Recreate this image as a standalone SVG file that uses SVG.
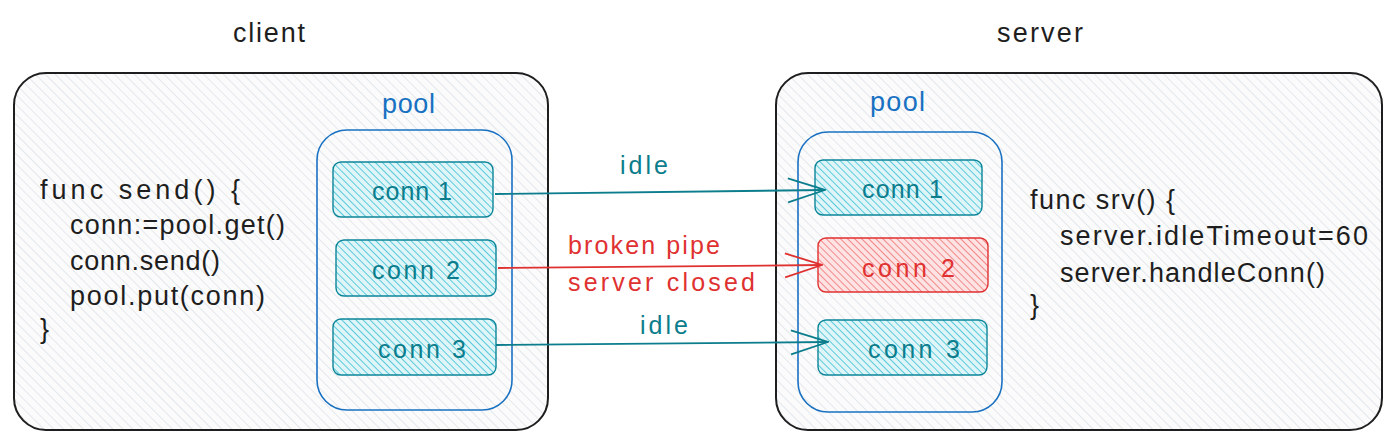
<svg xmlns="http://www.w3.org/2000/svg" width="1400" height="445" viewBox="0 0 1400 445">
<style>
text{font-family:"Liberation Sans",Arial,sans-serif;}
.title{font-size:27px;fill:#1e1e1e;}
.code{font-size:27px;fill:#1e1e1e;}
.pool{font-size:27px;fill:#1971c2;}
.tl{font-size:25px;fill:#0c7d8c;}
.rl{font-size:25px;fill:#e03131;}
.box{fill:url(#hg);stroke:#1e1e1e;stroke-width:2;}
.poolr{fill:none;stroke:#1971c2;stroke-width:1.6;}
.ct{fill:url(#ht);stroke:#0c8599;stroke-width:1.4;}
.cr{fill:url(#hr);stroke:#e03131;stroke-width:1.4;}
.ln{fill:none;stroke-width:1.8;}
</style>
<defs>
<pattern id="hg" width="7" height="7" patternUnits="userSpaceOnUse" patternTransform="rotate(-45)">
<rect width="7" height="7" fill="#fbfbfc"/><line x1="0" y1="0" x2="0" y2="7" stroke="#ced4da" stroke-width="1"/>
</pattern>
<pattern id="ht" width="5" height="5" patternUnits="userSpaceOnUse" patternTransform="rotate(-45)">
<rect width="5" height="5" fill="#dff5f8"/><line x1="0" y1="0" x2="0" y2="5" stroke="#22b8cf" stroke-width="1.4"/>
</pattern>
<pattern id="hr" width="5" height="5" patternUnits="userSpaceOnUse" patternTransform="rotate(-45)">
<rect width="5" height="5" fill="#fde3e3"/><line x1="0" y1="0" x2="0" y2="5" stroke="#f06060" stroke-width="1.4"/>
</pattern>
<marker id="at" viewBox="0 0 40 28" refX="39" refY="14" markerWidth="40" markerHeight="28" markerUnits="userSpaceOnUse" orient="auto">
<path d="M2,2 L39,14 L2,26" fill="none" stroke="#0c7d8c" stroke-width="1.8"/>
</marker>
<marker id="ar" viewBox="0 0 40 28" refX="39" refY="14" markerWidth="40" markerHeight="28" markerUnits="userSpaceOnUse" orient="auto">
<path d="M2,2 L39,14 L2,26" fill="none" stroke="#e03131" stroke-width="1.8"/>
</marker>
</defs>
<rect width="1400" height="445" fill="#ffffff"/>

<g id="client">
<text class="title" x="233" y="42" textLength="72">client</text>
<rect class="box" x="14" y="73" width="534" height="357" rx="32"/>
<text class="code" x="40" y="199" textLength="200">func send() {</text>
<text class="code" x="70" y="234" textLength="215">conn:=pool.get()</text>
<text class="code" x="70" y="270" textLength="150">conn.send()</text>
<text class="code" x="70" y="305" textLength="195">pool.put(conn)</text>
<text class="code" x="40" y="338">}</text>
</g>

<g id="client-pool">
<text class="pool" x="382" y="113" textLength="53">pool</text>
<rect class="poolr" x="317" y="130" width="195" height="280" rx="30"/>
</g>
<g id="client-conn1">
<rect class="ct" x="333" y="162" width="160" height="55" rx="8"/>
<text class="tl" x="372" y="200" textLength="80">conn 1</text>
</g>
<g id="client-conn2">
<rect class="ct" x="336" y="240" width="160" height="56" rx="8"/>
<text class="tl" x="372" y="279" textLength="88">conn 2</text>
</g>
<g id="client-conn3">
<rect class="ct" x="333" y="319" width="163" height="56" rx="8"/>
<text class="tl" x="378" y="358" textLength="88">conn 3</text>
</g>

<g id="server">
<text class="title" x="997" y="42" textLength="86">server</text>
<rect class="box" x="776" y="73" width="606" height="357" rx="32"/>
<text class="code" x="1030" y="209" textLength="145">func srv() {</text>
<text class="code" x="1060" y="245" textLength="308">server.idleTimeout=60</text>
<text class="code" x="1060" y="282" textLength="265">server.handleConn()</text>
<text class="code" x="1030" y="314">}</text>
</g>

<g id="server-pool">
<text class="pool" x="870" y="111" textLength="55">pool</text>
<rect class="poolr" x="798" y="132" width="204" height="280" rx="30"/>
</g>
<g id="server-conn1">
<rect class="ct" x="815" y="160" width="167" height="55" rx="8"/>
<text class="tl" x="862" y="198" textLength="81">conn 1</text>
</g>
<g id="server-conn2">
<rect class="cr" x="818" y="238" width="170" height="54" rx="8"/>
<text class="rl" x="862" y="277" textLength="93">conn 2</text>
</g>
<g id="server-conn3">
<rect class="ct" x="818" y="320" width="169" height="55" rx="8"/>
<text class="tl" x="868" y="358" textLength="92">conn 3</text>
</g>

<g id="connectors">
<path class="ln" d="M495,194 L825,190" stroke="#0c7d8c" marker-end="url(#at)"/>
<text class="tl" x="620" y="174" textLength="48">idle</text>
<path class="ln" d="M498,268 L822,265" stroke="#e03131" marker-end="url(#ar)"/>
<text class="rl" x="568" y="254" textLength="152">broken pipe</text>
<text class="rl" x="568" y="291" textLength="187">server closed</text>
<path class="ln" d="M496,345 L828,342" stroke="#0c7d8c" marker-end="url(#at)"/>
<text class="tl" x="640" y="334" textLength="48">idle</text>
</g>
</svg>
